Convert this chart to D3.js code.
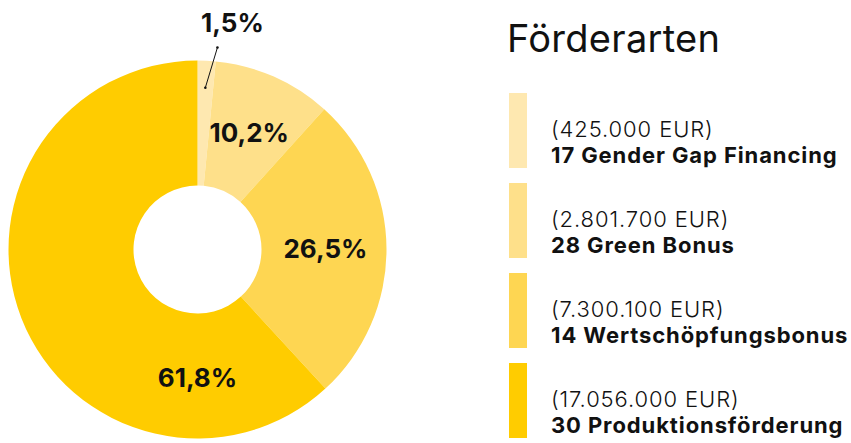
<!DOCTYPE html>
<html>
<head>
<meta charset="utf-8">
<script src="https://cdn.jsdelivr.net/npm/d3@7"></script>
<style>
  html, body { margin: 0; padding: 0; background: #fff; }
  svg { display: block; font-family: "Inter", "DejaVu Sans", sans-serif; }
</style>
</head>
<body>
<svg id="chart" width="851" height="443"></svg>
<script>
// Förderarten: Anzahl, Bezeichnung und Fördervolumen (EUR)
const categories = ["Gender Gap Financing", "Green Bonus", "Wertschöpfungsbonus", "Produktionsförderung"];
const counts = [17, 28, 14, 30];
const amounts = [425000, 2801700, 7300100, 17056000];
const colors = ["#fee8b0", "#fee08a", "#fed652", "#ffcc00"];
const title = "Förderarten";

const svg = d3.select("#chart");
const cx = 197.5, cy = 249.5, rOuter = 189, rInner = 64;

const total = d3.sum(amounts);
const fmtPct = v => (v * 100).toFixed(1).replace(".", ",") + "%";
const fmtEUR = v => "(" + d3.format(",")(v).replace(/,/g, ".") + " EUR)";

const data = categories.map((c, i) => ({ name: c, count: counts[i], amount: amounts[i], color: colors[i] }));

const pie = d3.pie().sort(null).value(d => d.amount);
const arcs = pie(data);
const arc = d3.arc().innerRadius(rInner).outerRadius(rOuter);

const g = svg.append("g").attr("transform", `translate(${cx},${cy})`);

g.selectAll("path.slice")
  .data(arcs)
  .join("path")
  .attr("class", "slice")
  .attr("d", arc)
  .attr("fill", d => d.data.color);

// Percentage labels
const labelR = 128;
const polar = (r, a) => [r * Math.sin(a), -r * Math.cos(a)];

arcs.forEach(d => {
  const share = d.data.amount / total;
  const mid = (d.startAngle + d.endAngle) / 2;
  const txt = g.append("text")
    .attr("font-weight", 700)
    .attr("font-size", 26)
    .attr("fill", "#111")
    .attr("text-anchor", "middle")
    .text(fmtPct(share));
  if (share < 0.05) {
    // small slice: label outside with a leader line
    const p0 = polar(rOuter - 27, mid);
    const p1 = polar(rOuter + 14, mid + 0.05);
    g.append("line")
      .attr("x1", p0[0]).attr("y1", p0[1])
      .attr("x2", p1[0]).attr("y2", p1[1])
      .attr("stroke", "#111").attr("stroke-width", 1);
    [p0, p1].forEach(p => g.append("circle").attr("cx", p[0]).attr("cy", p[1]).attr("r", 1.3).attr("fill", "#111"));
    txt.attr("x", p1[0] + 15).attr("y", p1[1] - 15);
  } else {
    // keep labels off the left half of the ring
    const a = Math.min(mid, Math.PI);
    const p = polar(labelR, a);
    txt.attr("x", p[0]).attr("y", p[1]).attr("dy", "0.36em");
  }
});

// Legend
const lg = svg.append("g").attr("transform", "translate(507,0)");
lg.append("text")
  .attr("x", 0).attr("y", 52)
  .attr("font-size", 38)
  .attr("font-weight", 400)
  .attr("letter-spacing", 0.3)
  .attr("fill", "#111")
  .text(title);

const item = lg.selectAll("g.item")
  .data(data)
  .join("g")
  .attr("class", "item")
  .attr("transform", (d, i) => `translate(0,${93 + i * 90})`);

item.append("rect")
  .attr("x", 2).attr("y", 0)
  .attr("width", 18).attr("height", 75)
  .attr("fill", d => d.color);

item.append("text")
  .attr("x", 44).attr("y", 44)
  .attr("font-size", 22)
  .attr("font-weight", 300)
  .attr("letter-spacing", 0.9)
  .attr("fill", "#111")
  .text(d => fmtEUR(d.amount));

item.append("text")
  .attr("x", 44).attr("y", 70)
  .attr("font-size", 22)
  .attr("font-weight", 700)
  .attr("letter-spacing", 0.9)
  .attr("fill", "#111")
  .text(d => d.count + " " + d.name);
</script>
</body>
</html>
